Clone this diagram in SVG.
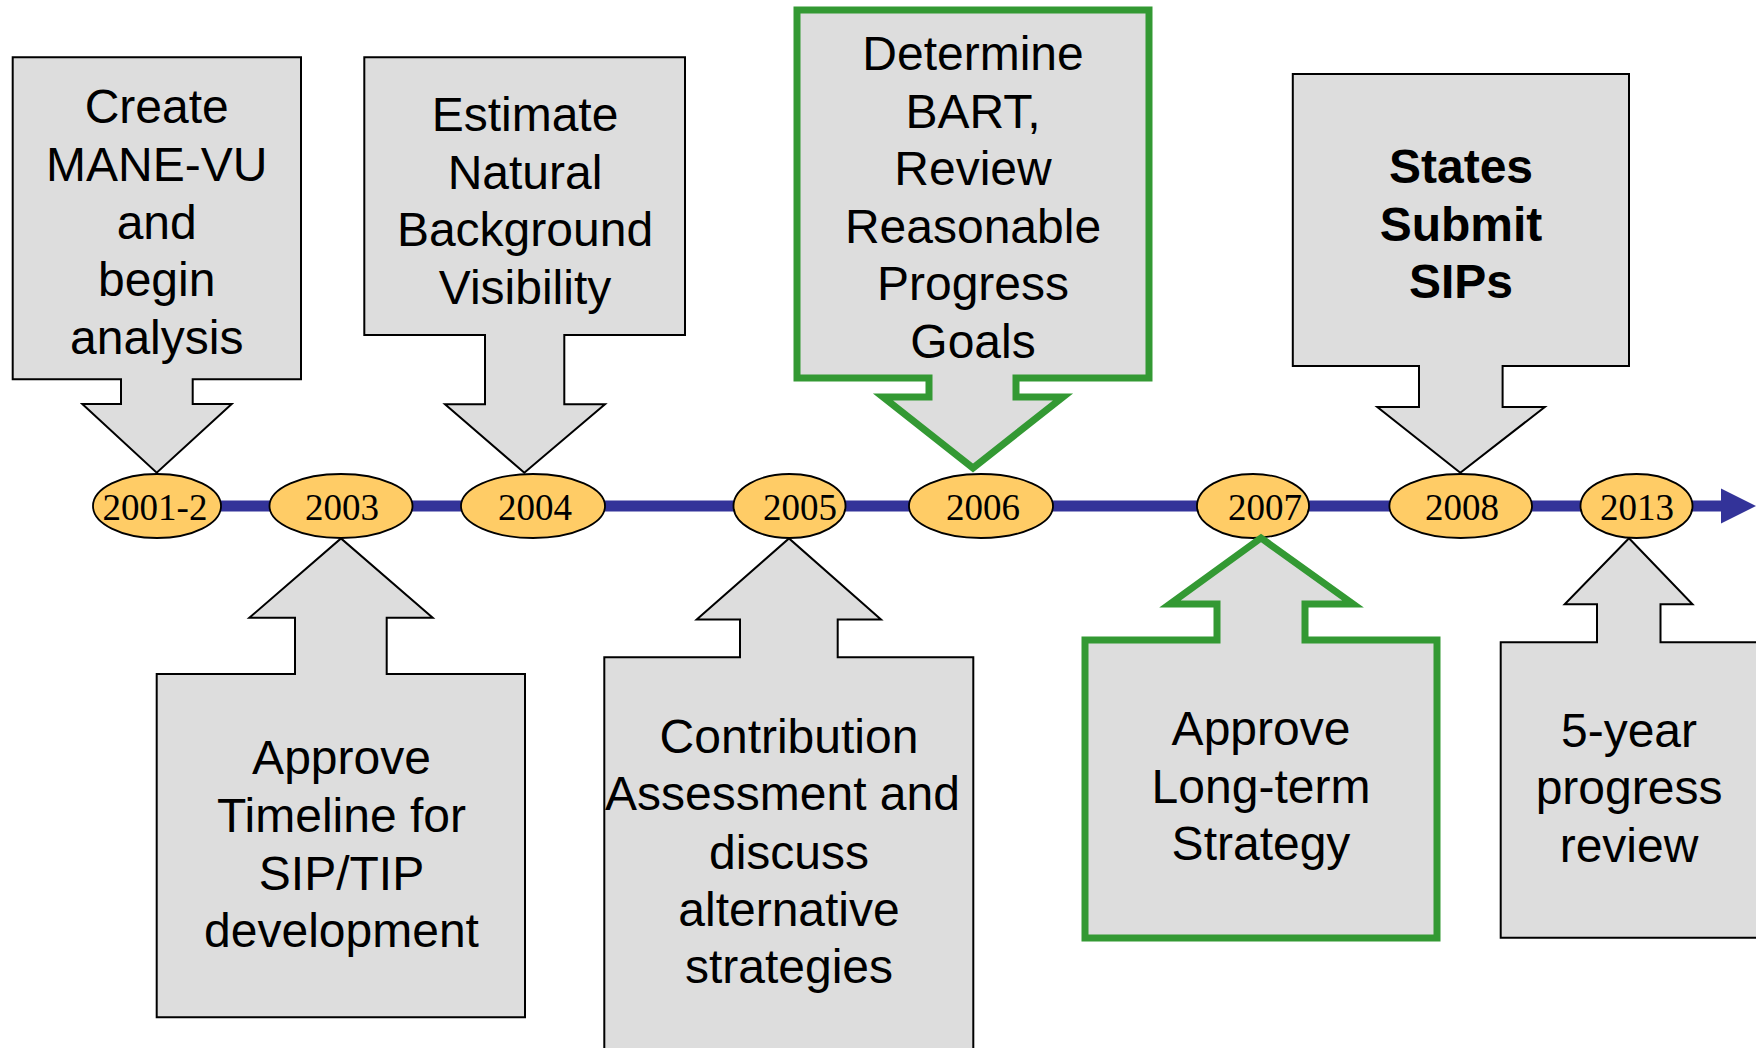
<svg xmlns="http://www.w3.org/2000/svg" width="1756" height="1048" viewBox="0 0 1756 1048">
<style>
.box{fill:#DDDDDD;stroke:#000;stroke-width:2;stroke-linejoin:miter}
.gbox{fill:#DDDDDD;stroke:#339933;stroke-width:7;stroke-linejoin:miter}
.yr{fill:#FFCC66;stroke:#000;stroke-width:1.8}
.yt{font-family:"Liberation Serif","Times New Roman",serif;font-size:37px;fill:#000;text-anchor:middle}
.lb{font-family:"Liberation Sans",Arial,sans-serif;font-size:48px;fill:#000;text-anchor:middle}
.bd{font-weight:bold}
</style>
<rect width="1756" height="1048" fill="#fff"/>
<g id="connectors">
<line x1="157" y1="506" x2="1724" y2="506" stroke="#333399" stroke-width="11"/>
<polygon points="1721,488.5 1756,506 1721,523.5" fill="#333399"/>
</g>
<g id="y2001"><ellipse class="yr" cx="157" cy="506" rx="64" ry="32"/><text class="yt" x="155" y="520">2001-2</text></g>
<g id="y2003"><ellipse class="yr" cx="341" cy="506" rx="71.5" ry="32"/><text class="yt" x="342" y="520">2003</text></g>
<g id="y2004"><ellipse class="yr" cx="533" cy="506" rx="72" ry="32"/><text class="yt" x="535" y="520">2004</text></g>
<g id="y2005"><ellipse class="yr" cx="789.5" cy="506" rx="56" ry="32"/><text class="yt" x="800" y="520">2005</text></g>
<g id="y2006"><ellipse class="yr" cx="981" cy="506" rx="72" ry="32"/><text class="yt" x="983" y="520">2006</text></g>
<g id="y2007"><ellipse class="yr" cx="1253" cy="506" rx="56" ry="32"/><text class="yt" x="1265" y="520">2007</text></g>
<g id="y2008"><ellipse class="yr" cx="1460.7" cy="506" rx="71.3" ry="32"/><text class="yt" x="1462" y="520">2008</text></g>
<g id="y2013"><ellipse class="yr" cx="1636.5" cy="506" rx="56" ry="32"/><text class="yt" x="1637" y="520">2013</text></g>

<g id="n-create">
<path class="box" d="M12.7,57.3 H301 V379.3 H192.7 V404 H231.7 L156.7,472.7 L82.3,404 H121 V379.3 H12.7 Z"/>
<text class="lb"><tspan x="156.7" y="123.3">Create</tspan><tspan x="156.7" y="181">MANE-VU</tspan><tspan x="156.7" y="238.7">and</tspan><tspan x="156.7" y="296.4">begin</tspan><tspan x="156.7" y="354">analysis</tspan></text>
</g>
<g id="n-estimate">
<path class="box" d="M364.3,57.3 H685 V335 H564.3 V404.3 H605 L524.3,472.7 L445,404.3 H485 V335 H364.3 Z"/>
<text class="lb"><tspan x="525" y="130.7">Estimate</tspan><tspan x="525" y="188.5">Natural</tspan><tspan x="525" y="246.3">Background</tspan><tspan x="525" y="304">Visibility</tspan></text>
</g>
<g id="n-bart">
<path class="gbox" d="M797,10 H1149 V378 H1016 V397 H1063 L973,468 L883,397 H929 V378 H797 Z"/>
<text class="lb"><tspan x="973" y="70">Determine</tspan><tspan x="973" y="127.5">BART,</tspan><tspan x="973" y="185">Review</tspan><tspan x="973" y="242.5">Reasonable</tspan><tspan x="973" y="300">Progress</tspan><tspan x="973" y="357.5">Goals</tspan></text>
</g>
<g id="n-sips">
<path class="box" d="M1292.8,74 H1629 V366 H1502.6 V407 H1544.8 L1460.3,472.7 L1377.3,407 H1419 V366 H1292.8 Z"/>
<text class="lb bd"><tspan x="1461" y="183.3">States</tspan><tspan x="1461" y="241">Submit</tspan><tspan x="1461" y="298.3">SIPs</tspan></text>
</g>
<g id="n-timeline">
<path class="box" d="M156.7,1017.3 V674 H295 V617.8 H249.3 L341,538.4 L432.7,617.8 H386.7 V674 H525 V1017.3 Z"/>
<text class="lb"><tspan x="341.5" y="774.4">Approve</tspan><tspan x="341.5" y="832">Timeline for</tspan><tspan x="341.5" y="889.7">SIP/TIP</tspan><tspan x="341.5" y="947.4">development</tspan></text>
</g>
<g id="n-contribution">
<path class="box" d="M604.3,1060 V657.3 H740 V619.5 H696.7 L789,538.4 L881,619.5 H837.7 V657.3 H973.3 V1060 Z"/>
<text class="lb"><tspan x="789" y="753.4">Contribution</tspan><tspan x="782.5" y="810.4">Assessment and</tspan><tspan x="789" y="868.5">discuss</tspan><tspan x="789" y="926.4">alternative</tspan><tspan x="789" y="983.4">strategies</tspan></text>
</g>
<g id="n-longterm">
<path class="gbox" d="M1085,938 V640 H1217 V604 H1170 L1261,538 L1353,604 H1305 V640 H1437 V938 Z"/>
<text class="lb"><tspan x="1261" y="745">Approve</tspan><tspan x="1261" y="803">Long-term</tspan><tspan x="1261" y="860">Strategy</tspan></text>
</g>
<g id="n-review">
<path class="box" d="M1500.7,937.7 V642.3 H1597 V604.3 H1564.7 L1629,538.3 L1692.5,604.3 H1660.5 V642.3 H1770 V937.7 Z"/>
<text class="lb"><tspan x="1629" y="746.7">5-year</tspan><tspan x="1629" y="803.5">progress</tspan><tspan x="1629" y="861.5">review</tspan></text>
</g>
</svg>
